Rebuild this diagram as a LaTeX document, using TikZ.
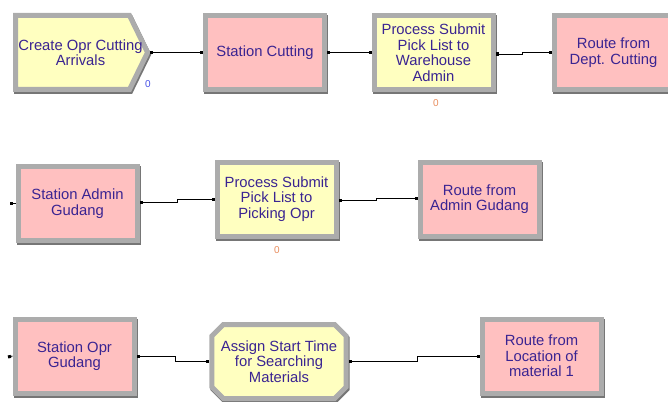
\documentclass[tikz,border=0pt]{standalone}
\usepackage{fontspec}
\setmainfont{Liberation Sans}
\usetikzlibrary{arrows.meta,shapes.symbols,shapes.misc}
\definecolor{pinkfill}{RGB}{255,192,192}
\definecolor{yellowfill}{RGB}{255,255,192}
\definecolor{framegray}{RGB}{172,172,172}
\definecolor{frameshade}{RGB}{118,118,118}
\definecolor{textblue}{RGB}{58,36,146}
\definecolor{cntblue}{RGB}{70,80,230}
\definecolor{cntorange}{RGB}{232,140,92}
\newcommand{\sigline}[1]{\makebox[112pt]{\hspace{16pt}#1}}
\tikzset{module/.style={draw=framegray,line width=5pt,outer sep=2.5pt,inner sep=1pt,
  preaction={draw=frameshade,line width=5pt,transform canvas={shift={(1pt,-2pt)}}},
  text=textblue,align=center,font=\fontsize{14.8}{15.5}\selectfont},
 modbox/.style={module,rectangle,minimum width=119pt,minimum height=74pt},
 modsig/.style={module,signal,signal to=east,signal pointer angle=128,minimum height=74pt},
 modassign/.style={module,chamfered rectangle,chamfered rectangle xsep=8pt,minimum width=119pt,minimum height=74pt},
 counter/.style={font=\fontsize{10}{10}\selectfont,inner sep=0pt},
 link/.style={draw=black,line width=.9pt,{Square[length=3pt,width=3pt]}-{Square[length=3pt,width=3pt]}},
 linkin/.style={draw=black,line width=.9pt,{Square[length=3pt,width=3pt]}-}}

\begin{document}
\begin{tikzpicture}[x=1pt,y=-1pt]
\useasboundingbox (0,0) rectangle (668,401);
% row 1
\node[modsig,fill=yellowfill,anchor=west] (create) at (13,52.5) {\sigline{Create Opr Cutting}\\\sigline{Arrivals}};
\node[modbox,fill=pinkfill] (stcut) at (265,52.5) {Station Cutting};
\node[modbox,fill=yellowfill] (proc1) at (433.5,52.5) {Process Submit\\Pick List to\\Warehouse\\Admin};
\node[modbox,fill=pinkfill] (route1) at (613.5,52.5) {Route from\\Dept. Cutting};
\node[counter,text=cntblue] (createcnt) at (148,84) {0};
\node[counter,text=cntorange] (proc1cnt) at (436,103) {0};
\draw[link] (create.east) -- (stcut.west);
\draw[link] (stcut.east) -- (proc1.west);
\draw[link] ([yshift=-1.5pt]proc1.east) -- ++(27,0) |- (route1.west);
% row 2
\coordinate (in2) at (10,203.5);
\node[modbox,fill=pinkfill] (stadmin) at (77.5,203.5) {Station Admin\\Gudang};
\node[modbox,fill=yellowfill] (proc2) at (276.5,199) {Process Submit\\Pick List to\\Picking Opr};
\node[modbox,fill=pinkfill] (route2) at (479.5,199) {Route from\\Admin Gudang};
\node[counter,text=cntorange] (proc2cnt) at (277,250) {0};
\draw[linkin] (in2) -- (stadmin.west);
\draw[link] ([yshift=1.5pt]stadmin.east) -- ++(38,0) |- (proc2.west);
\draw[link] ([yshift=-1pt]proc2.east) -- ++(38,0) |- ([yshift=1pt]route2.west);
% row 3
\coordinate (in3) at (8,357);
\node[modbox,fill=pinkfill] (stopr) at (74.5,356) {Station Opr\\Gudang};
\node[modassign,fill=yellowfill] (assign) at (279,361.5) {Assign Start Time\\for Searching\\Materials};
\node[modbox,fill=pinkfill] (route3) at (541.5,356) {Route from\\Location of\\material 1};
\draw[linkin] (in3) -- (stopr.west);
\draw[link] (stopr.east) -- ++(39,0) |- (assign.west);
\draw[link] (assign.east) -- ++(69,0) |- (route3.west);
\end{tikzpicture}
\end{document}
